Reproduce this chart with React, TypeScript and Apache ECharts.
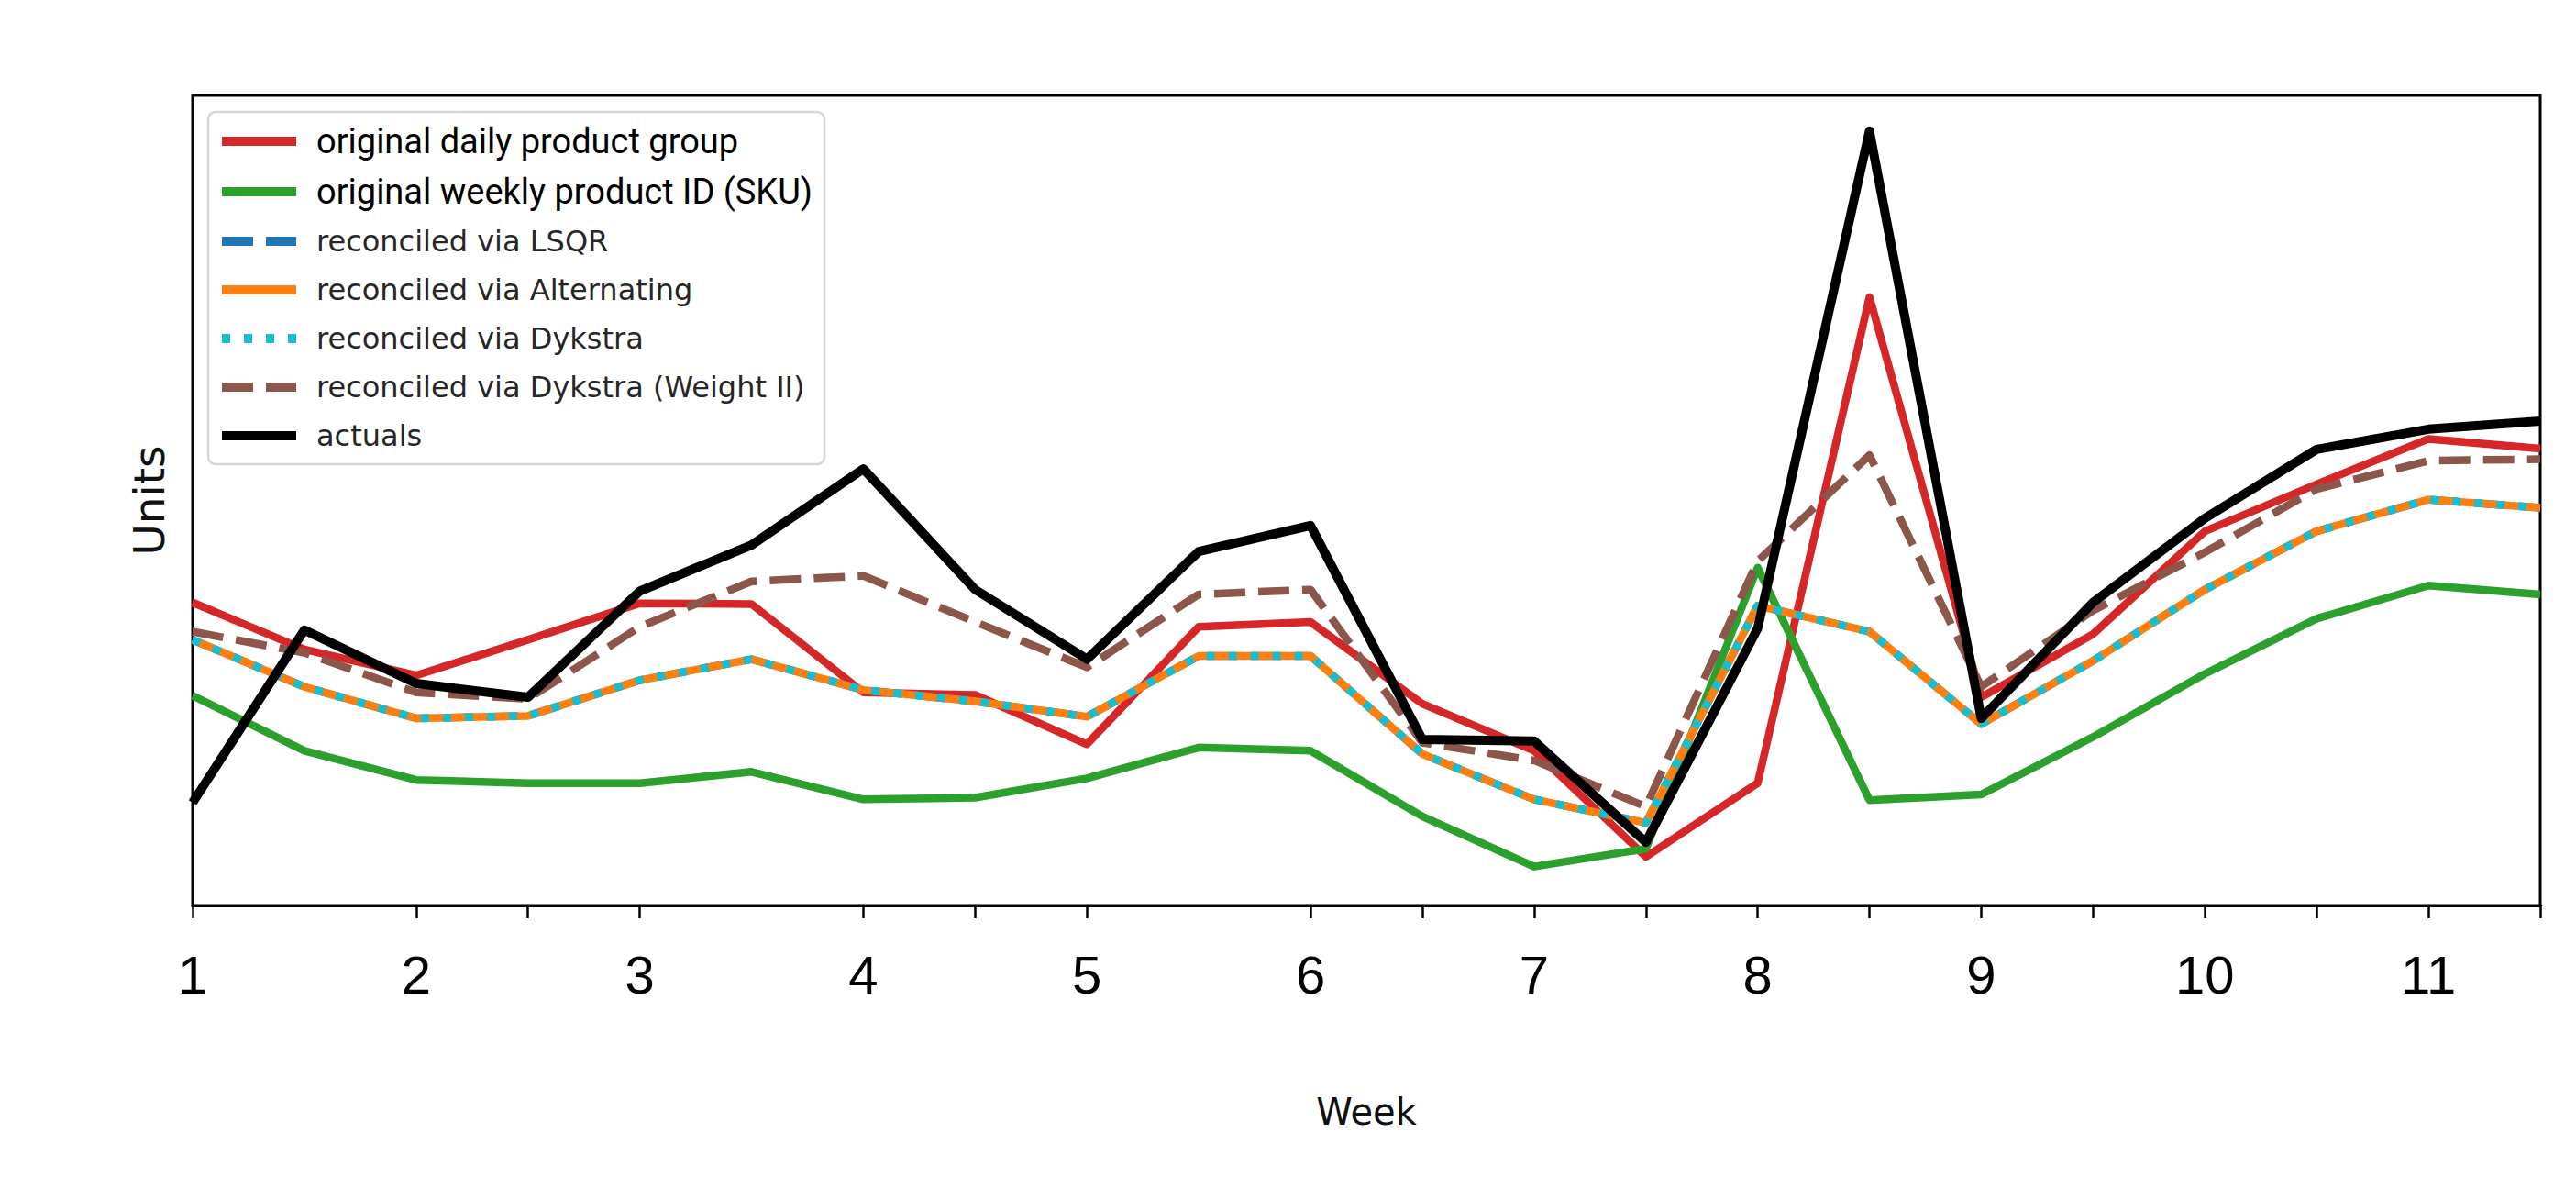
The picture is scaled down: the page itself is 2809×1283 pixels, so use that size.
import React, { useEffect, useRef } from "react";
import * as echarts from "echarts";

const weeks = ["1", "1.5", "2", "2.5", "3", "3.5", "4", "4.5", "5", "5.5", "6", "6.5", "7", "7.5", "8", "8.5", "9", "9.5", "10", "10.5", "11", "11.5"];
const hiddenTicks = ["1.5", "3.5", "5.5"];

const dailyGroup = [37.4, 31.6, 28.4, 32.8, 37.3, 37.2, 26.3, 26.0, 19.9, 34.4, 35.0, 24.9, 19.1, 6.0, 15.1, 75.1, 25.7, 33.5, 46.2, 52.0, 57.6, 56.4];
const weeklySku = [25.9, 19.1, 15.5, 15.1, 15.1, 16.5, 13.1, 13.3, 15.7, 19.5, 19.1, 11.0, 4.8, 7.0, 41.7, 13.0, 13.7, 20.8, 28.6, 35.4, 39.5, 38.4];
const reconciledLsqr = [32.8, 27.0, 23.1, 23.4, 27.8, 30.4, 26.6, 25.2, 23.3, 30.8, 30.8, 18.7, 13.1, 10.2, 37.0, 33.8, 22.4, 30.2, 39.0, 46.2, 50.1, 49.1];
const reconciledAlternating = [32.8, 27.0, 23.1, 23.4, 27.8, 30.4, 26.6, 25.2, 23.3, 30.8, 30.8, 18.7, 13.1, 10.2, 37.0, 33.8, 22.4, 30.2, 39.0, 46.2, 50.1, 49.1];
const reconciledDykstra = [32.8, 27.0, 23.1, 23.4, 27.8, 30.4, 26.6, 25.2, 23.3, 30.8, 30.8, 18.7, 13.1, 10.2, 37.0, 33.8, 22.4, 30.2, 39.0, 46.2, 50.1, 49.1];
const reconciledDykstraW2 = [33.8, 31.2, 26.3, 25.5, 34.4, 40.0, 40.7, 35.0, 29.4, 38.4, 39.0, 20.1, 17.9, 12.2, 42.5, 55.6, 27.0, 36.4, 43.6, 51.4, 54.9, 55.1];
const actuals = [12.7, 34.0, 27.4, 25.7, 38.8, 44.5, 53.9, 39.0, 30.4, 43.7, 46.9, 20.5, 20.3, 7.8, 34.2, 95.6, 23.1, 37.4, 47.8, 56.3, 58.8, 59.8];

const seriesNames = [
  "original daily product group",
  "original weekly product ID (SKU)",
  "reconciled via LSQR",
  "reconciled via Alternating",
  "reconciled via Dykstra",
  "reconciled via Dykstra (Weight II)",
  "actuals",
];

export default function App() {
  const ref = useRef<HTMLDivElement>(null);

  useEffect(() => {
    if (!ref.current) return;
    const chart = echarts.init(ref.current, null, { renderer: "svg" });
    const W = 8.5;
    const mk = (name: string, data: number[], color: string, type: any, width = W) => ({
      name,
      type: "line",
      data,
      symbol: "none",
      showSymbol: false,
      lineStyle: { color, width, type, cap: "butt", join: "round" },
      itemStyle: { color },
      emphasis: { disabled: true },
    });
    const condensedFont = "Roboto, 'Liberation Sans', sans-serif";
    const dejavu = "'DejaVu Sans', sans-serif";
    chart.setOption({
      animation: false,
      backgroundColor: "#fff",
      grid: { left: 210, right: 39, top: 104, bottom: 296, show: true, borderColor: "#000", borderWidth: 3, backgroundColor: "transparent" },
      legend: {
        orient: "vertical",
        left: 227,
        top: 122,
        padding: [13, 13, 13, 10],
        itemWidth: 81,
        itemHeight: 20,
        itemGap: 17,
        backgroundColor: "#fff",
        borderColor: "#d6d6d6",
        borderWidth: 2.5,
        borderRadius: 8,
        selectedMode: false,
        itemStyle: { opacity: 0, borderWidth: 0 },
        lineStyle: { width: 10, cap: "butt" },
        textStyle: { fontSize: 32, fontFamily: dejavu, color: "#262626", lineHeight: 36, height: 36, padding: [0, 0, 0, 17] },
        data: seriesNames.map((n, i) =>
          i < 2
            ? { name: n, textStyle: { fontFamily: condensedFont, fontSize: 38, color: "#000", lineHeight: 36, height: 36, padding: [0, 0, 0, 17] } }
            : { name: n }
        ),
      },
      xAxis: {
        type: "category",
        data: weeks,
        boundaryGap: false,
        name: "Week",
        nameLocation: "middle",
        nameGap: 205,
        nameTextStyle: { fontSize: 40, fontFamily: dejavu, color: "#111" },
        axisLine: { show: true, lineStyle: { color: "#000", width: 3 } },
        axisTick: {
          show: true,
          inside: false,
          length: 14,
          lineStyle: { color: "#000", width: 2.5 },
          interval: (_i: number, v: string) => hiddenTicks.indexOf(v) < 0,
        },
        axisLabel: {
          show: true,
          margin: 46,
          fontSize: 58,
          fontFamily: "'Liberation Sans Narrow', 'Liberation Sans', Arial, sans-serif",
          color: "#000",
          interval: (_i: number, v: string) => Number.isInteger(Number(v)),
        },
        splitLine: { show: false },
      },
      yAxis: {
        type: "value",
        min: 0,
        max: 100,
        name: "Units",
        nameLocation: "middle",
        nameGap: 24,
        nameTextStyle: { fontSize: 47, fontFamily: dejavu, color: "#111" },
        axisLine: { show: true, lineStyle: { color: "#000", width: 3 } },
        axisTick: { show: false },
        axisLabel: { show: false },
        splitLine: { show: false },
      },
      series: [
        mk(seriesNames[0], dailyGroup, "#d62728", "solid"),
        mk(seriesNames[1], weeklySku, "#2ca02c", "solid"),
        mk(seriesNames[2], reconciledLsqr, "#1f77b4", [34, 14]),
        mk(seriesNames[3], reconciledAlternating, "#ff7f0e", "solid"),
        mk(seriesNames[4], reconciledDykstra, "#17becf", [9, 15]),
        mk(seriesNames[5], reconciledDykstraW2, "#8c564b", [34, 14]),
        mk(seriesNames[6], actuals, "#000000", "solid", 10),
      ],
    });
    return () => chart.dispose();
  }, []);

  return <div ref={ref} style={{ position: "fixed", left: 0, top: 0, width: 2809, height: 1283 }} />;
}
